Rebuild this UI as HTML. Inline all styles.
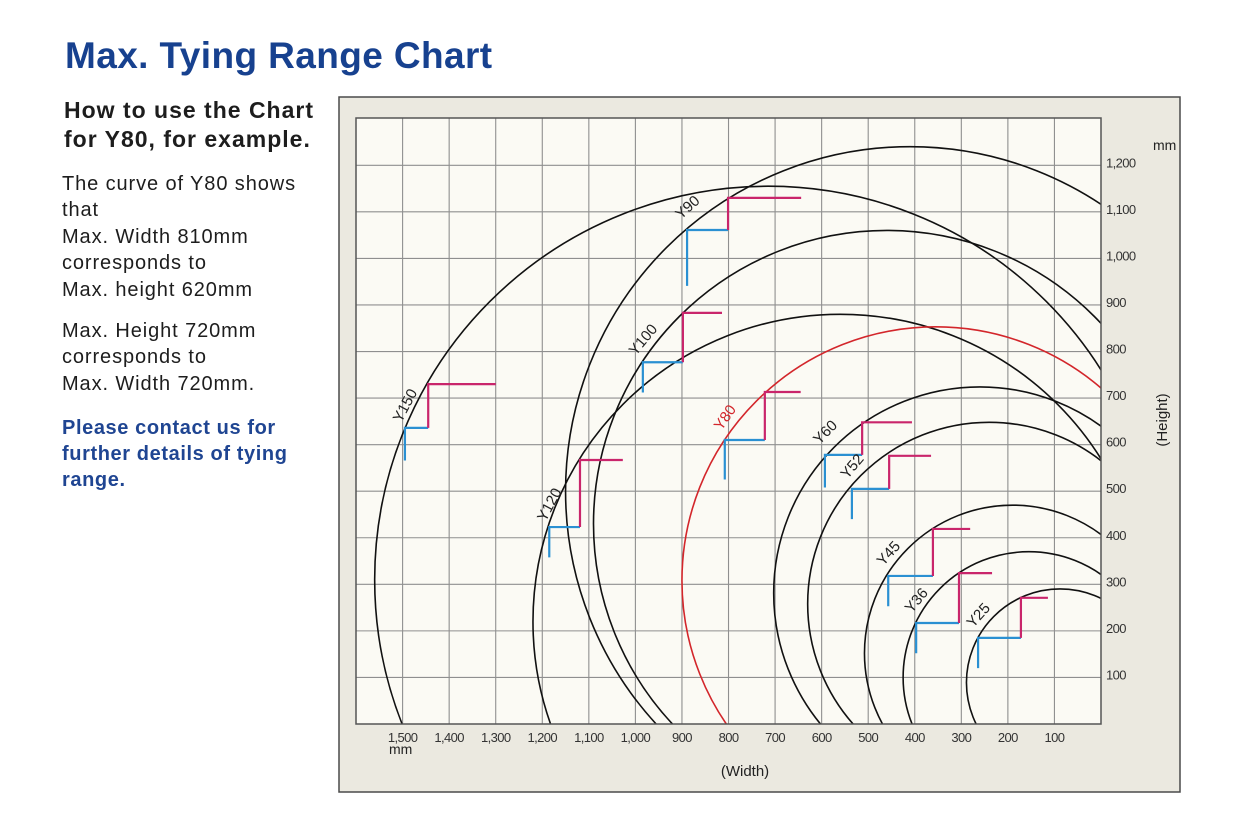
<!DOCTYPE html>
<html><head><meta charset="utf-8"><style>
html,body{margin:0;padding:0;background:#fff;width:1250px;height:825px;overflow:hidden}
.t{position:absolute;font-family:"Liberation Sans",sans-serif;white-space:nowrap;color:#1d1d1d}
.h{font-weight:bold;font-size:23px;letter-spacing:1px}
.b{font-size:20px;letter-spacing:0.9px}
.c{font-weight:bold;font-size:20px;color:#1f4592;letter-spacing:0.6px}
</style></head><body>
<div class="t" style="left:65px;top:35px;font-size:37px;font-weight:bold;color:#17418f;letter-spacing:0.4px">Max. Tying Range Chart</div>
<div class="t h" style="left:64px;top:97px">How to use the Chart</div>
<div class="t h" style="left:64px;top:126px">for Y80, for example.</div>
<div>
<div class="t b" style="left:62px;top:173px">The curve of Y80 shows</div>
<div class="t b" style="left:62px;top:199px">that</div>
<div class="t b" style="left:62px;top:226px">Max. Width 810mm</div>
<div class="t b" style="left:62px;top:252px">corresponds to</div>
<div class="t b" style="left:62px;top:279px">Max. height 620mm</div>
<div class="t b" style="left:62px;top:320px">Max. Height 720mm</div>
<div class="t b" style="left:62px;top:346px">corresponds to</div>
<div class="t b" style="left:62px;top:373px">Max. Width 720mm.</div>
</div>
<div>
<div class="t c" style="left:62px;top:417px">Please contact us for</div>
<div class="t c" style="left:62px;top:443px">further details of tying</div>
<div class="t c" style="left:62px;top:469px">range.</div>
</div>
<svg id="chart" width="1250" height="825" style="position:absolute;left:0;top:0" xmlns="http://www.w3.org/2000/svg" font-family="Liberation Sans, sans-serif">
<rect x="339" y="97" width="841" height="695" fill="#ebe9e0" stroke="#4a4a4a" stroke-width="1.5"/>
<rect x="356" y="118" width="745" height="606" fill="#fbfaf4"/>
<defs><clipPath id="pc"><rect x="356" y="118" width="745" height="606"/></clipPath></defs>
<g id="grid"></g>
<g id="curves" clip-path="url(#pc)"></g>
<g id="steps"></g>
<g id="labels"></g>
<rect x="356" y="118" width="745" height="606" fill="none" stroke="#555" stroke-width="1.5"/>
<g id="ticks"></g>
<text x="1153" y="150" font-size="14" fill="#222">mm</text>
<text x="389" y="754" font-size="14" fill="#222">mm</text>
<text x="745" y="776" font-size="15" fill="#222" text-anchor="middle">(Width)</text>
<text x="0" y="0" font-size="15" fill="#222" text-anchor="middle" transform="translate(1167,420) rotate(-90)">(Height)</text>
</svg>
<script>
const names = ["Y150","Y120","Y100","Y90","Y80","Y60","Y52","Y45","Y36","Y25"];
const centerW = [715,560,460,410,355,260,240,190,155,88];
const centerH = [310,220,430,500,308,281,258,152,100,89];
const radius = [845,660,630,740,545,443,390,318,270,201];
const blueW = [1495,1185,984,889,808,593,535,457,397,264];
const blueH = [636,423,777,1061,610,578,505,318,217,185];
const pinkW = [1445,1119,898,801,722,513,455,361,305,172];
const pinkH = [730,567,883,1130,713,648,576,419,324,271];
const blueDrop = [70,65,65,120,85,70,65,65,65,65];
const pinkExt = [145,92,84,157,77,107,90,80,71,58];
const labelAngle = [-62,-62,-50,-42,-55,-45,-50,-48,-50,-48];
const xTicks = [1500,1400,1300,1200,1100,1000,900,800,700,600,500,400,300,200,100];
const xTickText = ["1,500","1,400","1,300","1,200","1,100","1,000","900","800","700","600","500","400","300","200","100"];
const yTicks = [100,200,300,400,500,600,700,800,900,1000,1100,1200];
const yTickText = ["100","200","300","400","500","600","700","800","900","1,000","1,100","1,200"];

const NS = "http://www.w3.org/2000/svg";
const K = 0.4656;
function X(w){return 1101 - w*K;}
function Y(h){return 724 - h*K;}
function mk(tag, attrs, parent){const e=document.createElementNS(NS,tag);for(const k in attrs)e.setAttribute(k,attrs[k]);parent.appendChild(e);return e;}

const grid = document.getElementById('grid');
for(let w=100; w<1600; w+=100){
  const l = mk('line',{x1:X(w),x2:X(w),y1:118,y2:724,stroke:'#8f8f8f','stroke-width':1.1},grid);
  
  
}
for(let h=100; h<1300; h+=100){
  const l = mk('line',{x1:356,x2:1101,y1:Y(h),y2:Y(h),stroke:'#8f8f8f','stroke-width':1.1},grid);
  
  
}

const cg = document.getElementById('curves');
const sg = document.getElementById('steps');
const lg = document.getElementById('labels');
names.forEach((nm,i)=>{
  const isRed = nm==='Y80';
  const c = mk('circle',{cx:X(centerW[i]),cy:Y(centerH[i]),r:radius[i]*K,fill:'none',stroke:isRed?'#d3262b':'#111','stroke-width':1.6},cg);
  
  
  const bx=X(blueW[i]), by=Y(blueH[i]), px=X(pinkW[i]), py=Y(pinkH[i]);
  const b = mk('polyline',{points:bx+','+Y(blueH[i]-blueDrop[i])+' '+bx+','+by+' '+px+','+by,fill:'none',stroke:'#2a90d2','stroke-width':2.2},sg);
  
  
  const m = mk('polyline',{points:px+','+by+' '+px+','+py+' '+X(pinkW[i]-pinkExt[i])+','+py,fill:'none',stroke:'#c9256b','stroke-width':2.2},sg);
  
  
  const t = mk('text',{x:0,y:0,'font-size':15,fill:isRed?'#d3262b':'#222','text-anchor':'middle','dominant-baseline':'middle',transform:'translate('+(bx+1)+','+(by-22)+') rotate('+labelAngle[i]+')'},lg);
  t.textContent = nm;
  
  
});
const tg = document.getElementById('ticks');
xTicks.forEach((w,i)=>{
  const t = mk('text',{x:X(w),y:742,'font-size':13,fill:'#333','text-anchor':'middle','letter-spacing':'-0.6'},tg);
  t.textContent = xTickText[i];
  
  
});
yTicks.forEach((h,i)=>{
  const t = mk('text',{x:1106,y:Y(h)+2,'font-size':13,fill:'#333','letter-spacing':'-0.6'},tg);
  t.textContent = yTickText[i];
  
  
});
</script>
</body></html>
